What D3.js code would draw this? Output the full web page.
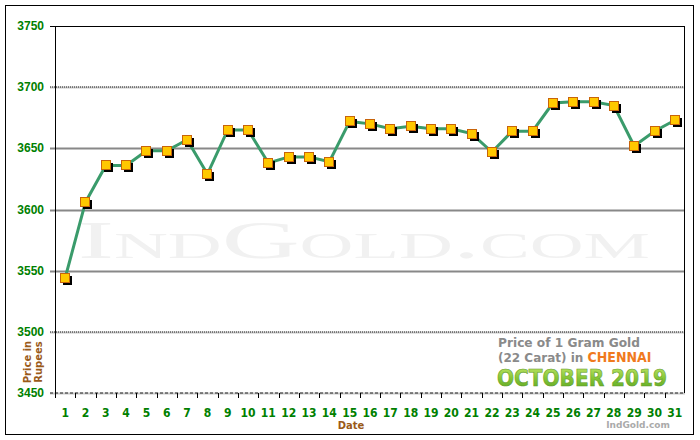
<!DOCTYPE html>
<html>
<head>
<meta charset="utf-8">
<script src="https://cdn.jsdelivr.net/npm/d3@7"></script>
<style>
	body { margin: 0; background: #fff; }
	svg { display: block; }
</style>
</head>
<body>
<div id="canvas"></div>
<script>
const days = ['1', '2', '3', '4', '5', '6', '7', '8', '9', '10', '11', '12', '13', '14', '15', '16',
	'17', '18', '19', '20', '21', '22', '23', '24', '25', '26', '27', '28', '29', '30', '31'];
const prices = [3544, 3606, 3636, 3636, 3648, 3648, 3657, 3629, 3665, 3665, 3638, 3643, 3643, 3639, 3672, 3670,
	3666, 3668, 3666, 3666, 3662, 3647, 3664, 3664, 3687, 3688, 3688, 3685, 3652, 3664, 3673];
const yTicks = [3450, 3500, 3550, 3600, 3650, 3700, 3750];
const dottedTicks = [3450, 3500, 3700];

const w = 700;
const h = 440;
const plotL = 55, plotR = 685, plotT = 26, plotB = 393;

const svg = d3.select('#canvas')
	.append('svg')
	.attr('width', w)
	.attr('height', h);

const defs = svg.append('defs');
const grad = defs.append('linearGradient')
	.attr('id', 'monthGrad')
	.attr('x1', 0).attr('y1', 0).attr('x2', 0).attr('y2', 1);
grad.append('stop').attr('offset', '0%').attr('stop-color', '#c4e86a');
grad.append('stop').attr('offset', '50%').attr('stop-color', '#86c636');
grad.append('stop').attr('offset', '100%').attr('stop-color', '#5aa624');

// outer frame
svg.append('rect')
	.attr('x', 5.5).attr('y', 5.5)
	.attr('width', 688).attr('height', 429)
	.attr('fill', '#fff')
	.attr('stroke', '#000');

const x = d3.scaleBand()
	.domain(days)
	.range([plotL, plotR]);

const y = d3.scaleLinear()
	.domain([3450, 3750])
	.range([plotB, plotT]);

// watermark
svg.append('text')
	.attr('x', 78)
	.attr('y', 258)
	.attr('textLength', 572)
	.attr('lengthAdjust', 'spacingAndGlyphs')
	.style('font-family', '"Liberation Serif", "DejaVu Serif", serif')
	.style('font-size', '52px')
	.style('font-variant', 'small-caps')
	.style('fill', '#f1f1f1')
	.text('IndGold.com');

// gridlines
const grid = svg.append('g');
grid.selectAll('line.g')
	.data(yTicks.filter(t => t < 3750))
	.enter()
	.append('line')
	.attr('class', 'g')
	.attr('x1', plotL - 5).attr('x2', plotR)
	.attr('y1', d => Math.round(y(d)) + 0.5)
	.attr('y2', d => Math.round(y(d)) + 0.5)
	.attr('stroke', d => dottedTicks.includes(d) ? '#c8c8c8' : '#888')
	.attr('stroke-width', 2);
grid.selectAll('line.d')
	.data(dottedTicks)
	.enter()
	.append('line')
	.attr('class', 'd')
	.attr('x1', plotL - 5).attr('x2', plotR)
	.attr('y1', d => Math.round(y(d)))
	.attr('y2', d => Math.round(y(d)))
	.attr('stroke', '#222')
	.attr('stroke-width', 1)
	.attr('stroke-dasharray', d => d === 3450 ? '3,2' : '1,1');

// top line, left axis, right border
svg.append('line')
	.attr('x1', plotL - 5).attr('x2', plotR)
	.attr('y1', y(3750) + 0.5).attr('y2', y(3750) + 0.5)
	.attr('stroke', '#000');
svg.append('line')
	.attr('x1', plotL + 0.5).attr('x2', plotL + 0.5)
	.attr('y1', plotT).attr('y2', plotB + 5)
	.attr('stroke', '#000');
svg.append('line')
	.attr('x1', plotR - 0.5).attr('x2', plotR - 0.5)
	.attr('y1', plotT).attr('y2', plotB)
	.attr('stroke', '#000');

// x ticks at band edges
svg.append('g')
	.selectAll('line')
	.data(days.slice(1))
	.enter()
	.append('line')
	.attr('x1', d => Math.round(x(d)) + 0.5)
	.attr('x2', d => Math.round(x(d)) + 0.5)
	.attr('y1', plotB).attr('y2', plotB + 5)
	.attr('stroke', '#000');

// y labels
svg.append('g')
	.selectAll('text')
	.data(yTicks)
	.enter()
	.append('text')
	.attr('x', 44)
	.attr('y', d => y(d) + 4)
	.attr('text-anchor', 'end')
	.style('font-family', '"Liberation Sans", Arial, sans-serif')
	.style('font-weight', 'bold')
	.style('font-size', '12px')
	.style('fill', '#008000')
	.text(d => d);

// x labels
svg.append('g')
	.selectAll('text')
	.data(days)
	.enter()
	.append('text')
	.attr('x', d => x(d) + x.bandwidth() / 2)
	.attr('y', 417)
	.attr('text-anchor', 'middle')
	.style('font-family', '"Liberation Sans Narrow", "DejaVu Sans Condensed", sans-serif')
	.style('font-weight', 'bold')
	.style('font-size', '12px')
	.style('fill', '#008000')
	.text(d => d);

// axis titles
svg.append('text')
	.attr('x', 351)
	.attr('y', 429)
	.attr('text-anchor', 'middle')
	.style('font-family', '"DejaVu Sans", Verdana, sans-serif')
	.style('font-weight', 'bold')
	.style('font-size', '10px')
	.style('fill', '#9a5a1a')
	.text('Date');

const ytitle = svg.append('text')
	.attr('transform', 'translate(31, 362) rotate(-90)')
	.attr('text-anchor', 'middle')
	.style('font-family', '"DejaVu Sans", Verdana, sans-serif')
	.style('font-weight', 'bold')
	.style('font-size', '10px')
	.style('fill', '#9a5a1a');
ytitle.append('tspan').attr('x', 0).attr('dy', 0).text('Price in');
ytitle.append('tspan').attr('x', 0).attr('dy', 11).text('Rupees');

// line + markers
const line = d3.line()
	.x((d, i) => x(days[i]) + x.bandwidth() / 2)
	.y(d => y(d));

svg.append('path')
	.datum(prices)
	.attr('d', line)
	.attr('fill', 'none')
	.attr('stroke', '#3a9b6b')
	.attr('stroke-width', 3);

const marks = svg.append('g')
	.selectAll('g')
	.data(prices)
	.enter()
	.append('g')
	.attr('transform', (d, i) => 'translate(' + (Math.round(x(days[i]) + x.bandwidth() / 2)) + ',' + Math.round(y(d)) + ')');
marks.append('rect')
	.attr('x', -2).attr('y', -2)
	.attr('width', 9).attr('height', 9)
	.attr('fill', '#000');
marks.append('rect')
	.attr('x', -4.5).attr('y', -4.5)
	.attr('width', 9).attr('height', 9)
	.attr('fill', '#ffc800')
	.attr('stroke', '#c8640a')
	.attr('stroke-width', 1);

// legend
const legend = svg.append('g');
legend.append('text')
	.attr('x', 498).attr('y', 347)
	.attr('textLength', 142)
	.attr('lengthAdjust', 'spacingAndGlyphs')
	.style('font-family', '"DejaVu Sans", Verdana, sans-serif')
	.style('font-weight', 'bold')
	.style('font-size', '12px')
	.style('fill', '#8a8a8a')
	.text('Price of 1 Gram Gold');
const l2 = legend.append('text')
	.attr('x', 498).attr('y', 362)
	.style('font-family', '"DejaVu Sans", Verdana, sans-serif')
	.style('font-weight', 'bold')
	.style('font-size', '12px')
	.style('fill', '#8a8a8a');
l2.append('tspan').text('(22 Carat) in ');
l2.append('tspan')
	.style('fill', '#f07a1e')
	.style('font-family', '"Liberation Sans Narrow", "DejaVu Sans Condensed", sans-serif')
	.style('font-size', '14px')
	.text('CHENNAI');
legend.append('text')
	.attr('x', 497).attr('y', 386)
	.attr('textLength', 170)
	.attr('lengthAdjust', 'spacingAndGlyphs')
	.style('font-family', '"DejaVu Sans", Verdana, sans-serif')
	.style('font-weight', 'bold')
	.style('font-size', '23px')
	.style('fill', 'url(#monthGrad)')
	.style('stroke', '#5e9a2a')
	.style('stroke-width', 0.6)
	.text('OCTOBER 2019');

svg.append('text')
	.attr('x', 638).attr('y', 428)
	.attr('text-anchor', 'middle')
	.style('font-family', '"DejaVu Sans", Verdana, sans-serif')
	.style('font-weight', 'bold')
	.style('font-size', '9px')
	.style('fill', '#aaaaaa')
	.text('IndGold.com');
</script>
</body>
</html>
